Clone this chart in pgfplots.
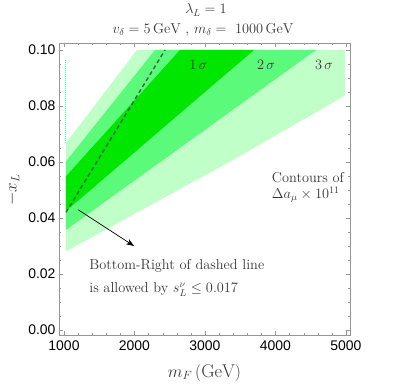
\documentclass[border=0pt]{standalone}
\usepackage{pgfplots}
\pgfplotsset{compat=1.18}
\usetikzlibrary{arrows.meta}
\usepackage{fontspec}
\newfontfamily\ticksans{Liberation Sans}

\definecolor{sigone}{RGB}{0,230,0}
\definecolor{sigtwo}{RGB}{92,250,122}
\definecolor{sigthree}{RGB}{192,255,200}
\definecolor{dashcol}{RGB}{60,100,72}
\definecolor{framecol}{RGB}{150,150,150}
\definecolor{txtcol}{RGB}{55,55,55}

\newcommand{\labfont}{\fontsize{14.4}{17}\selectfont}
\newcommand{\axfont}{\fontsize{18.5}{22}\selectfont}

\begin{document}
\begin{tikzpicture}
\begin{axis}[
    scale only axis,
    width=291bp, height=292bp,
    xmin=929, xmax=5057,
    ymin=-0.0018, ymax=0.1025,
    clip=false,
    axis line style={framecol},
    tick style={framecol},
    tick align=inside,
    major tick length=4bp, minor tick length=2bp,
    xtick={1000,2000,3000,4000,5000},
    ytick={0,0.02,0.04,0.06,0.08,0.1},
    minor x tick num=4, minor y tick num=3,
    scaled y ticks=false,
    /pgf/number format/assume math mode=true,
    ticklabel style={font=\fontsize{14}{16}\ticksans, black},
    xticklabel style={/pgf/number format/1000 sep={}, yshift=-2bp},
    yticklabel style={/pgf/number format/.cd, fixed, fixed zerofill, precision=2},
]
% 3 sigma band
\addplot[draw=none, fill=sigthree] coordinates {
    (1025,0.0280) (3355,0.0601) (4985,0.0837) (4985,0.1000) (2035,0.1000) (1025,0.0667)
} -- cycle;
% 2 sigma band
\addplot[draw=none, fill=sigtwo] coordinates {
    (1025,0.0357) (4574,0.1000) (2291,0.1000) (1025,0.0601)
} -- cycle;
% 1 sigma band
\addplot[draw=none, fill=sigone] coordinates {
    (1025,0.0424) (3695,0.1000) (2645,0.1000) (1025,0.0548)
} -- cycle;

% left edge artefact
\addplot[sigtwo, densely dotted, line width=1bp] coordinates {(1025,0.0667) (1025,0.0965)};

% s_L bound
\addplot[dashcol, line width=1.4bp, dash pattern=on 4bp off 3bp] coordinates {
    (1028,0.0420) (2433,0.1000)
};
\addplot[black, line width=0.7bp, -{Stealth[length=8bp,width=6bp]}] coordinates {
    (1203,0.0429) (1993,0.0300)
};

\node[txtcol, font=\labfont] at (axis cs:2905,0.0946) {$1\,\sigma$};
\node[txtcol, font=\labfont] at (axis cs:3865,0.0946) {$2\,\sigma$};
\node[txtcol, font=\labfont] at (axis cs:4688,0.0946) {$3\,\sigma$};

\node[txtcol, font=\labfont, anchor=west] at (axis cs:3900,0.0543) {Contours of};
\node[txtcol, font=\labfont, anchor=west] at (axis cs:3900,0.0482) {$\Delta a_\mu \times 10^{11}$};

\node[txtcol, font=\labfont, anchor=west] at (axis cs:1310,0.0228) {Bottom-Right of dashed line};
\node[txtcol, font=\labfont, anchor=west] at (axis cs:1310,0.0145) {is allowed by $s_L^\nu \leq 0.017$};

\node[txtcol, font=\labfont] at (axis description cs:0.505,1.113) {$\lambda_L = 1$};
\node[txtcol, font=\labfont] at (axis description cs:0.495,1.045)
    {$v_\delta = 5\,\mathrm{GeV}$ , $m_\delta =\ 1000\,\mathrm{GeV}$};

\node[txtcol, font=\axfont] at (axis description cs:0.5,-0.13) {$m_F\,(\mathrm{GeV})$};
\node[txtcol, font=\axfont, rotate=90] at (axis description cs:-0.158,0.497) {$-x_L$};
\end{axis}
\path (-59bp,-55bp) rectangle (340bp,335bp);
\end{tikzpicture}
\end{document}
